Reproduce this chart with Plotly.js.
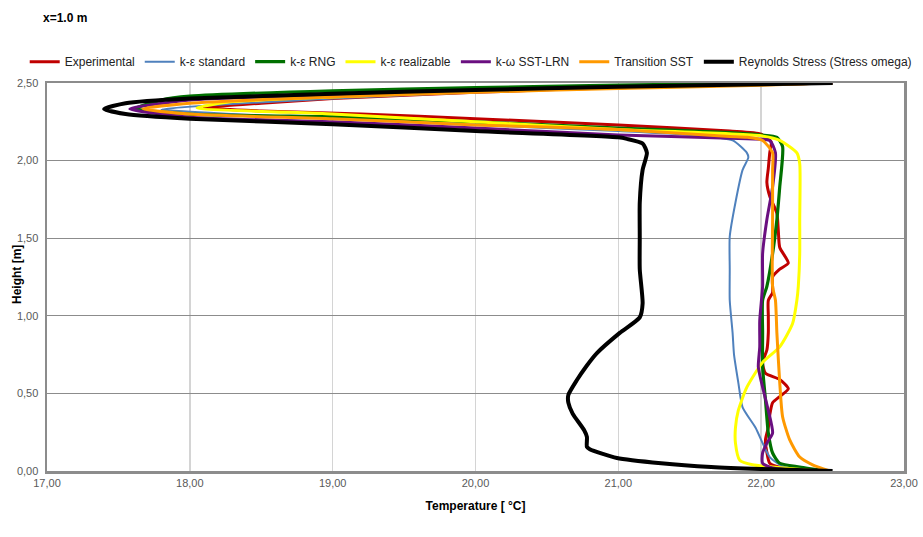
<!DOCTYPE html>
<html>
<head>
<meta charset="utf-8">
<script src="https://cdn.plot.ly/plotly-3.0.1.min.js"></script>
<style>html,body{margin:0;padding:0;background:#fff;}#chart{width:923px;height:537px;}</style>
</head>
<body>
<div id="chart"></div>
<script>
// Series names
const seriesNames = ["Experimental", "k-ε standard", "k-ε RNG", "k-ε realizable", "k-ω SST-LRN", "Transition SST", "Reynolds Stress (Stress omega)"];

// Experimental
const expT = [22.40, 22.15, 22.06, 22.04, 22.03, 22.05, 22.06, 22.08, 22.13, 22.19, 22.13, 22.03, 22.01, 22.04, 22.05, 22.05, 22.05, 22.08, 22.08, 22.13, 22.19, 22.13, 22.12, 22.11, 22.06, 22.04, 22.05, 22.06, 22.07, 22.00, 21.78, 21.00, 20.00, 19.20, 18.50, 18.10, 18.50, 19.00, 20.00, 21.00, 22.00, 22.50];
const expH = [0.00, 0.02, 0.05, 0.12, 0.20, 0.28, 0.36, 0.44, 0.48, 0.53, 0.59, 0.63, 0.70, 0.78, 0.89, 1.00, 1.10, 1.15, 1.25, 1.30, 1.34, 1.44, 1.55, 1.66, 1.77, 1.86, 1.95, 2.05, 2.12, 2.17, 2.19, 2.23, 2.27, 2.30, 2.32, 2.34, 2.37, 2.40, 2.44, 2.47, 2.49, 2.50];

// k-ε standard
const kesT = [22.42, 22.15, 22.06, 22.01, 21.96, 21.87, 21.84, 21.81, 21.80, 21.78, 21.78, 21.78, 21.82, 21.87, 21.91, 21.90, 21.80, 21.50, 21.00, 20.00, 19.00, 18.30, 17.80, 18.20, 19.00, 20.00, 21.00, 22.00, 22.50];
const kesH = [0.00, 0.03, 0.09, 0.18, 0.28, 0.41, 0.57, 0.75, 0.89, 1.10, 1.30, 1.51, 1.73, 1.94, 2.02, 2.05, 2.13, 2.165, 2.19, 2.23, 2.27, 2.30, 2.33, 2.36, 2.40, 2.44, 2.47, 2.49, 2.50];

// k-ε RNG
const rngT = [22.46, 22.27, 22.13, 22.08, 22.05, 22.03, 22.01, 22.01, 22.01, 22.04, 22.08, 22.11, 22.13, 22.15, 22.11, 22.00, 21.78, 21.00, 20.00, 19.12, 18.00, 17.62, 17.80, 18.00, 19.00, 20.00, 21.00, 22.00, 22.50];
const rngH = [0.00, 0.026, 0.05, 0.116, 0.245, 0.46, 0.67, 0.89, 1.10, 1.19, 1.40, 1.62, 1.83, 2.09, 2.15, 2.165, 2.18, 2.21, 2.25, 2.28, 2.30, 2.335, 2.39, 2.415, 2.45, 2.47, 2.487, 2.497, 2.50];

// k-ε realizable
const relT = [22.40, 22.08, 21.94, 21.85, 21.82, 21.82, 21.84, 21.90, 22.01, 22.13, 22.22, 22.25, 22.26, 22.27, 22.27, 22.27, 22.25, 22.13, 22.00, 21.00, 20.00, 19.00, 18.05, 18.30, 19.00, 20.00, 21.00, 22.00, 22.50];
const relH = [0.00, 0.026, 0.04, 0.07, 0.18, 0.28, 0.39, 0.54, 0.70, 0.80, 0.95, 1.10, 1.19, 1.40, 1.62, 1.98, 2.05, 2.13, 2.16, 2.20, 2.25, 2.30, 2.34, 2.38, 2.41, 2.445, 2.47, 2.49, 2.50];

// k-ω SST-LRN
const sstT = [22.35, 22.08, 22.01, 22.01, 22.04, 22.08, 22.05, 22.01, 21.98, 21.99, 21.99, 22.01, 22.01, 22.04, 22.08, 22.10, 22.06, 21.90, 21.00, 20.00, 19.00, 18.00, 17.58, 18.00, 19.00, 20.00, 21.00, 22.00, 22.50];
const sstH = [0.00, 0.02, 0.05, 0.116, 0.18, 0.245, 0.39, 0.54, 0.67, 0.80, 0.97, 1.19, 1.40, 1.62, 1.83, 2.05, 2.13, 2.14, 2.165, 2.21, 2.25, 2.28, 2.333, 2.39, 2.425, 2.45, 2.47, 2.49, 2.50];

// Transition SST
const trnT = [22.48, 22.36, 22.27, 22.20, 22.15, 22.13, 22.11, 22.10, 22.08, 22.08, 22.08, 22.08, 22.01, 21.90, 21.78, 21.00, 20.00, 19.00, 18.00, 17.67, 18.00, 19.00, 20.00, 21.00, 22.00, 22.45];
const trnH = [0.00, 0.04, 0.09, 0.20, 0.35, 0.57, 0.89, 1.10, 1.19, 1.62, 1.94, 2.05, 2.13, 2.15, 2.155, 2.20, 2.23, 2.27, 2.30, 2.334, 2.37, 2.41, 2.44, 2.465, 2.485, 2.50];

// Reynolds Stress (Stress omega)
const rsmT = [22.50, 22.00, 21.65, 21.30, 20.99, 20.80, 20.78, 20.78, 20.76, 20.68, 20.65, 20.65, 20.71, 20.78, 20.85, 21.01, 21.15, 21.17, 21.15, 21.15, 21.15, 21.17, 21.20, 21.17, 21.06, 21.00, 20.00, 19.00, 18.00, 17.55, 17.40, 17.55, 18.00, 19.00, 20.00, 21.00, 22.00, 22.50];
const rsmH = [0.00, 0.013, 0.026, 0.05, 0.084, 0.14, 0.155, 0.22, 0.264, 0.37, 0.44, 0.49, 0.586, 0.68, 0.76, 0.89, 0.99, 1.08, 1.30, 1.51, 1.73, 1.94, 2.05, 2.11, 2.14, 2.15, 2.19, 2.235, 2.27, 2.30, 2.333, 2.37, 2.40, 2.43, 2.455, 2.476, 2.492, 2.50];

const xTicks = [17, 18, 19, 20, 21, 22, 23];
const yTicks = [0, 0.5, 1.0, 1.5, 2.0, 2.5];

const colors = ["#c00000", "#4f81bd", "#007000", "#ffff00", "#6a0f80", "#ff9900", "#000000"];
const widths = [3, 2, 3.2, 3, 3, 3, 4];
const xs = [expT, kesT, rngT, relT, sstT, trnT, rsmT];
const ys = [expH, kesH, rngH, relH, sstH, trnH, rsmH];

const traces = seriesNames.map((n, i) => ({
  type: "scatter", mode: "lines", name: n,
  x: xs[i], y: ys[i],
  line: {color: colors[i], width: widths[i], shape: "spline", smoothing: 0.6}
}));

const layout = {
  width: 923, height: 537,
  margin: {l: 47, r: 19, t: 83, b: 66},
  paper_bgcolor: "#ffffff", plot_bgcolor: "#ffffff",
  separators: ", ",
  font: {family: "Liberation Sans, Arial, sans-serif", size: 11, color: "#404040"},
  title: {text: "<b>x=1.0 m</b>", x: 43/923, xanchor: "left", xref: "container",
          y: 1 - 18/537, yanchor: "middle", yref: "container",
          font: {size: 12, color: "#000000"}},
  showlegend: true,
  legend: {orientation: "h", x: -0.026, xanchor: "left", y: 1.055, yanchor: "middle",
           font: {size: 12, color: "#222222"}, bgcolor: "rgba(0,0,0,0)",
           tracegroupgap: 0, itemwidth: 30},
  xaxis: {range: [17, 23], tickvals: xTicks, tickformat: ".2f",
          showgrid: true, gridcolor: "#d4d4d4", gridwidth: 1.5,
          showline: true, linecolor: "#8c8c8c", linewidth: 2.5, mirror: true,
          zeroline: false, ticks: "", tickfont: {size: 11, color: "#595959"},
          title: {text: "<b>Temperature [ °C]</b>", font: {size: 12, color: "#000000"}, standoff: 14}},
  yaxis: {range: [0, 2.5], tickvals: yTicks, tickformat: ".2f",
          showgrid: true, gridcolor: "#8c8c8c", gridwidth: 1,
          showline: true, linecolor: "#8c8c8c", linewidth: 2.5, mirror: true,
          zeroline: false, ticks: "", ticklabelstandoff: 4, tickfont: {size: 11, color: "#595959"}},
  annotations: [{
    text: "<b>Height [m]</b>", textangle: -90, xref: "paper", yref: "paper",
    x: -30/857, y: (471 - 275)/388, xanchor: "center", yanchor: "middle",
    showarrow: false, font: {size: 12, color: "#000000"}
  }]
};

Plotly.newPlot("chart", traces, layout, {staticPlot: true, displayModeBar: false});
</script>
</body>
</html>
